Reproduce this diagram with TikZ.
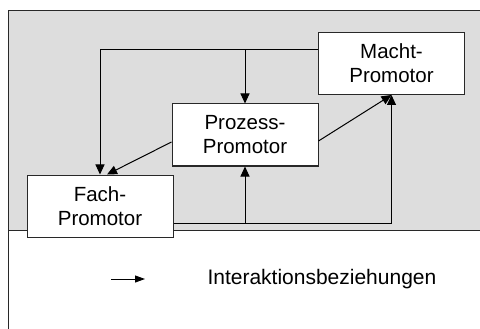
\documentclass[tikz,border=0pt]{standalone}
\usepackage{fontspec}
\setmainfont{Liberation Sans}
\usetikzlibrary{positioning,calc,arrows.meta}
\definecolor{mygrey}{RGB}{221,221,221}
\definecolor{myline}{RGB}{40,40,40}

\begin{document}
\begin{tikzpicture}[x=1pt,y=-1pt,
  line width=1pt,
  pnode/.style={draw=myline,fill=white,minimum width=146pt,minimum height=62pt,
    align=center,font=\fontsize{20.5}{24}\selectfont,inner sep=0pt},
  ->,>={Triangle[length=10pt,width=9pt]}
]
\useasboundingbox (0,0) rectangle (480,329);

% the background
\fill[mygrey] (8,11) rectangle (480,230);
\draw[-,myline] (480,11) -- (8,11) -- (8,329);
\draw[-,myline] (8,230) -- (480,230);

% the promotors
\node[pnode] (macht) at (391.5,63.5) {Macht-\\Promotor};
\node[pnode] (prozess) at (245,135) {Prozess-\\Promotor};
\node[pnode] (fach) at (100,206) {Fach-\\Promotor};

% the junctions
\coordinate (mout) at ([yshift=13.5pt]macht.west);
\coordinate (mjoin) at (prozess.north |- mout);
\coordinate (fout) at ([yshift=-17pt]fach.east);
\coordinate (fjoin) at (prozess.south |- fout);

% the edges
\draw (mout) -| (fach.north);
\draw (mjoin) -- (prozess.north);
\draw ([yshift=-7pt]prozess.west) -- ([xshift=7pt]fach.north);
\draw ([yshift=-6pt]prozess.east) -- (macht.south);
\draw (fout) -| (macht.south);
\draw (fjoin) -- (prozess.south);

% the legend
\coordinate (lstart) at (111,279);
\coordinate (lend) at (145,279);
\draw[>={Triangle[length=10pt,width=7pt]}] (lstart) -- (lend);
\node[anchor=west,inner sep=0pt,font=\fontsize{21}{24}\selectfont] (legend) at (207,279) {Interaktionsbeziehungen};
\end{tikzpicture}
\end{document}
